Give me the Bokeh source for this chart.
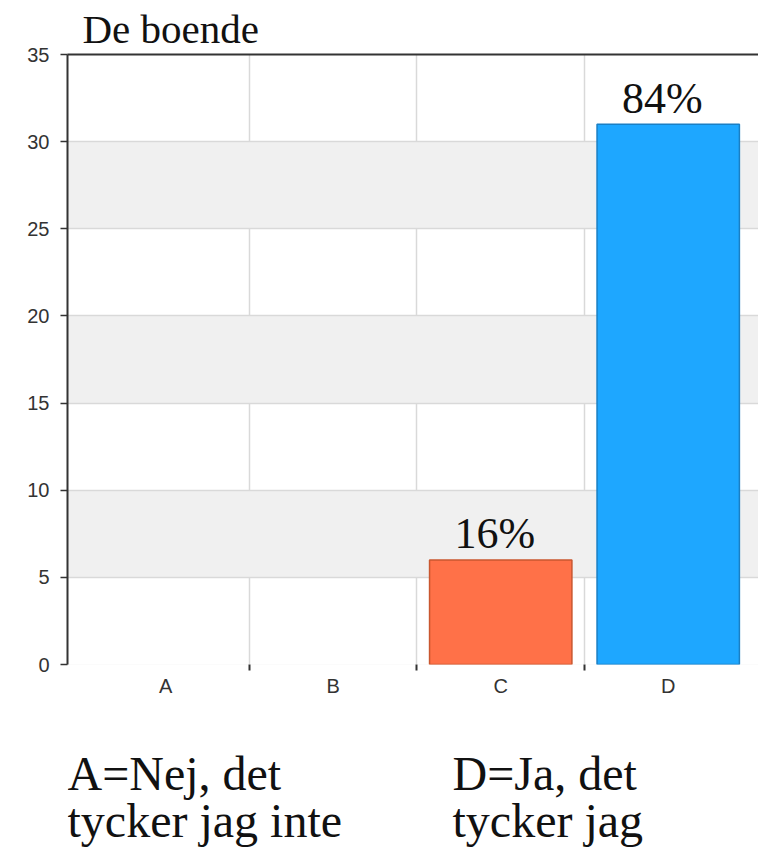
from bokeh.plotting import figure
from bokeh.layouts import column
from bokeh.models import FixedTicker, LinearAxis, ColumnDataSource, Range1d
from bokeh.core.properties import value
from bokeh.embed import file_html
from bokeh.resources import INLINE

# ---- data ----
title_text = "De boende"
categories = ["A", "B", "C", "D"]
counts = [0, 0, 6, 31]
bar_colors = ["#1EA7FF", "#FF7148", "#FF7148", "#1EA7FF"]
bar_line_colors = ["#1A7FC4", "#C9572F", "#C9572F", "#1A7FC4"]
y_ticks = [0, 5, 10, 15, 20, 25, 30, 35]
note_left_lines = ["A=Nej, det", "tycker jag inte"]
note_right_lines = ["D=Ja, det", "tycker jag"]

total = sum(counts)
xs = [i + 0.5 for i in range(len(categories))]
pct = [f"{round(100 * c / total)}%" for c in counts]

keep = [i for i, c in enumerate(counts) if c > 0]
src = ColumnDataSource(dict(
    x=[xs[i] for i in keep],
    top=[counts[i] for i in keep],
    color=[bar_colors[i] for i in keep],
    line=[bar_line_colors[i] for i in keep],
    label=[pct[i] for i in keep],
))

SERIF = "Liberation Serif"
TICKFONT = "Liberation Sans"
W = 758
LEFT = 67
MAIN_H = 720
NOTES_H = 130

# ---- main chart ----
p = figure(width=W, height=MAIN_H, output_backend="svg", toolbar_location=None,
           x_range=Range1d(-0.0866, 4.039), y_range=Range1d(0, 35),
           min_border_left=LEFT, min_border_right=0, min_border_top=54,
           min_border_bottom=56, background_fill_color="white",
           border_fill_color="white", outline_line_color=None)

p.title.text = title_text
p.title.text_font = SERIF
p.title.text_font_size = "41px"
p.title.text_font_style = "normal"
p.title.text_color = "#111111"
p.title.align = "left"
p.title.offset = 15
p.title.standoff = 5

step = y_ticks[1] - y_ticks[0]
p.ygrid.ticker = FixedTicker(ticks=[y_ticks[0] - step] + y_ticks)
p.ygrid.grid_line_color = "#d9d9d9"
p.ygrid.grid_line_width = 1.5
p.ygrid.band_fill_color = "#f0f0f0"
p.ygrid.band_fill_alpha = 1.0
p.xgrid.ticker = FixedTicker(ticks=list(range(1, len(categories))))
p.xgrid.grid_line_color = "#d9d9d9"
p.xgrid.grid_line_width = 1.5

ya = p.yaxis[0]
ya.ticker = FixedTicker(ticks=y_ticks)
ya.axis_line_color = "#333333"
ya.axis_line_width = 2
ya.major_tick_line_color = "#333333"
ya.major_tick_line_width = 1.5
ya.major_tick_out = 7
ya.major_tick_in = 0
ya.minor_tick_line_color = None
ya.major_label_text_font = TICKFONT
ya.major_label_text_font_size = "20px"
ya.major_label_text_color = "#333333"
ya.major_label_standoff = 11

xa = p.xaxis[0]
xa.ticker = FixedTicker(ticks=xs, minor_ticks=list(range(1, len(categories))))
xa.major_label_overrides = {x: c for x, c in zip(xs, categories)}
xa.axis_line_color = None
xa.major_tick_line_color = None
xa.minor_tick_line_color = "#333333"
xa.minor_tick_line_width = 2
xa.minor_tick_out = 6
xa.minor_tick_in = 0
xa.major_label_text_font = TICKFONT
xa.major_label_text_font_size = "20px"
xa.major_label_text_color = "#333333"
xa.major_label_standoff = 4

top_axis = LinearAxis(ticker=FixedTicker(ticks=[]), axis_line_color="#333333",
                      axis_line_width=2, major_tick_line_color=None,
                      minor_tick_line_color=None, major_label_text_font_size="0px",
                      major_label_standoff=0)
p.add_layout(top_axis, "above")

p.vbar(x="x", top="top", bottom=0, width=0.85, source=src,
       fill_color="color", line_color="line", line_width=1.5)

p.text(x="x", y="top", text="label", source=src, text_align="center",
       text_baseline="alphabetic", text_font=value(SERIF),
       text_font_size="44px", text_color="#111111", y_offset=-26, x_offset=-6)

# ---- notes strip ----
pn = figure(width=W, height=NOTES_H, output_backend="svg", toolbar_location=None,
            x_range=Range1d(0, W - LEFT), y_range=Range1d(0, NOTES_H),
            x_axis_location=None, y_axis_location=None,
            min_border_left=LEFT, min_border_right=0,
            min_border_top=0, min_border_bottom=0, outline_line_color=None,
            background_fill_color="white", border_fill_color="white")
pn.grid.visible = False
note_x = [0, 0, 385, 385]
note_y = [77, 30, 77, 30]
pn.text(x=note_x, y=note_y, text=note_left_lines + note_right_lines,
        text_font=value(SERIF), text_font_size="48px", text_color="#111111",
        text_baseline="alphabetic", text_align="left")

layout = column(p, pn, spacing=0)
open("out.html", "w").write(file_html(layout, INLINE))
